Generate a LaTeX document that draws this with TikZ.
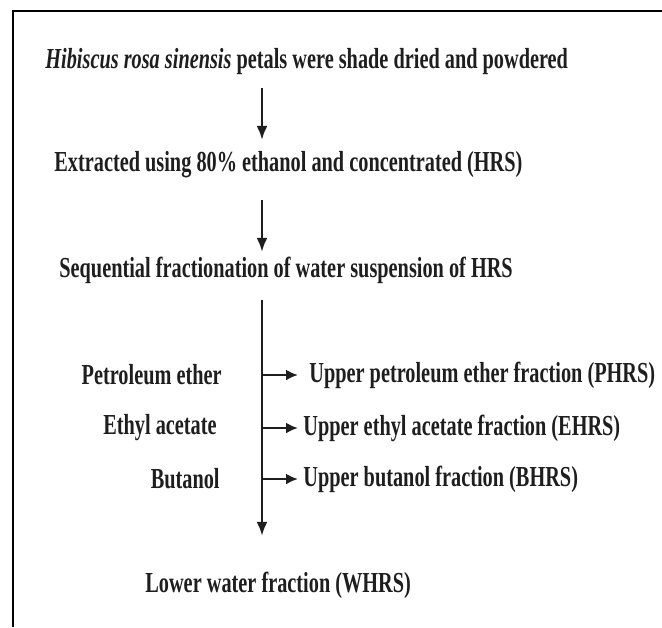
\documentclass[tikz,border=0pt]{standalone}
\usepackage{fontspec}
\setmainfont{Liberation Serif}[FakeStretch=0.7]
\definecolor{inkgrey}{RGB}{30, 30, 30}
\usetikzlibrary{arrows.meta, positioning, calc}

\begin{document}
\begin{tikzpicture}[x=0.5pt, y=-0.5pt,
    steptext/.style={inner sep=0pt, anchor=west, text=inkgrey, font=\fontsize{14.5}{16}\selectfont\bfseries},
    solvtext/.style={steptext, anchor=east},
    flowarrow/.style={draw=inkgrey, line width=1.3pt, -{Latex[length=7pt, width=5.5pt]}},
    branch/.style={flowarrow, -{Latex[length=6pt, width=5.5pt]}}]
  \useasboundingbox (0,0) rectangle (662,627);
  \draw[line width=1.2pt] (13,627) -- (13,11) -- (662,11);
  \coordinate (spine) at (262,0);

  \node[steptext] (dried) at (45,62) {\textit{Hibiscus rosa sinensis} petals were shade dried and powdered};
  \node[steptext] (extract) at (54,165) {Extracted using 80\% ethanol and concentrated (HRS)};
  \node[steptext] (seqfrac) at (59,270) {Sequential fractionation of water suspension of HRS};

  \node[solvtext] (petsolv) at (222,375) {Petroleum ether};
  \node[solvtext] (ethsolv) at (217,428) {Ethyl acetate};
  \node[solvtext] (butsolv) at (220,479) {Butanol};

  \node[steptext] (phrs) at (309,375) {Upper petroleum ether fraction (PHRS)};
  \node[steptext] (ehrs) at (303,428) {Upper ethyl acetate fraction (EHRS)};
  \node[steptext] (bhrs) at (303,479) {Upper butanol fraction (BHRS)};

  \node[steptext] (whrs) at (145,585) {Lower water fraction (WHRS)};

  \draw[flowarrow, shorten <=6.2pt, shorten >=5.7pt] (dried.south -| spine) -- (extract.north -| spine);
  \draw[flowarrow, shorten <=10.7pt, shorten >=2.2pt] (extract.south -| spine) -- (seqfrac.north -| spine);
  \draw[flowarrow, shorten <=8.2pt, shorten >=17.7pt] (seqfrac.south -| spine) -- (whrs.north -| spine);
  \draw[branch, shorten >=5.5pt] (phrs.west -| spine) -- (phrs.west);
  \draw[branch, shorten >=2.5pt] (ehrs.west -| spine) -- (ehrs.west);
  \draw[branch, shorten >=2.5pt] (bhrs.west -| spine) -- (bhrs.west);
\end{tikzpicture}
\end{document}
